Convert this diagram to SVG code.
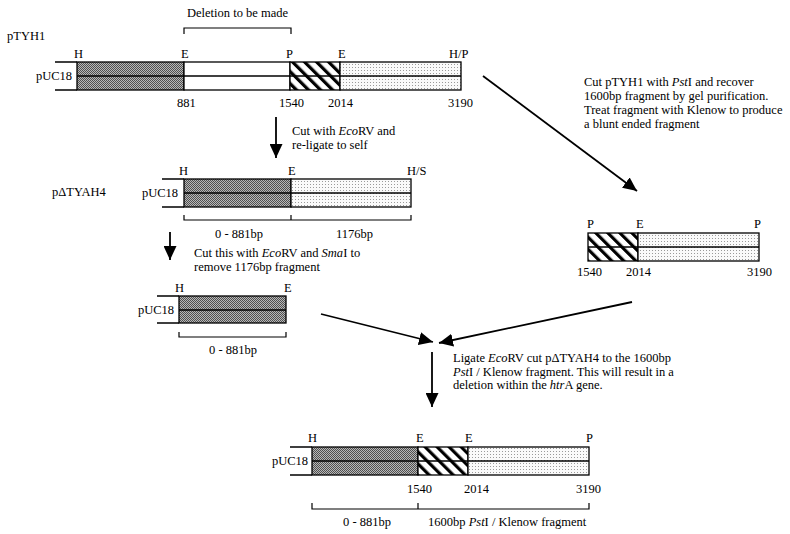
<svg xmlns="http://www.w3.org/2000/svg" width="790" height="534" viewBox="0 0 790 534">
<style>
text{font-family:"Liberation Serif","Times New Roman",serif;font-size:12.5px;fill:#000}
.bar{stroke:#000;stroke-width:1.3}
.ln{stroke:#000;stroke-width:1.3;fill:none}
.br{stroke:#000;stroke-width:1.2;fill:none}
.ar{stroke:#000;stroke-width:1.8;fill:none;marker-end:url(#ah)}
.dk{fill:url(#pdark)}
.dt{fill:url(#pdot)}
.ht{fill:url(#phatch)}
.wh{fill:#fff}
</style>
<defs>
<pattern id="pdark" width="2" height="2" patternUnits="userSpaceOnUse">
<rect width="2" height="2" fill="#b8b8b8"/>
<rect width="1" height="1" fill="#505050"/>
<rect x="1" y="1" width="1" height="1" fill="#505050"/>
</pattern>
<pattern id="pdot" width="3" height="3" patternUnits="userSpaceOnUse">
<rect width="3" height="3" fill="#fafafa"/>
<rect x="1" y="1" width="1" height="1" fill="#9a9a9a"/>
</pattern>
<pattern id="phatch" width="8.5" height="8.5" patternUnits="userSpaceOnUse" patternTransform="rotate(-45)">
<rect width="8.5" height="8.5" fill="#fff"/>
<rect width="3.2" height="8.5" fill="#000"/>
</pattern>
<marker id="ah" viewBox="0 0 14 13" refX="14" refY="6.5" markerWidth="14" markerHeight="13" orient="auto" markerUnits="userSpaceOnUse">
<path d="M0,0 L14,6.5 L0,13 z" fill="#000"/>
</marker>
</defs>

<g id="connectors">
<line class="ar" x1="276" y1="117" x2="276" y2="158"/>
<line class="ar" x1="170" y1="232" x2="170" y2="260"/>
<line class="ar" x1="483" y1="76" x2="637" y2="191"/>
<line class="ar" x1="321" y1="314" x2="433" y2="342"/>
<line class="ar" x1="632" y1="302" x2="439" y2="343"/>
<line class="ar" x1="432" y1="352" x2="432" y2="407"/>
</g>

<g id="pTYH1">
<text x="7" y="40">pTYH1</text>
<text x="187" y="17">Deletion to be made</text>
<path class="br" d="M184,34 V28 H291 V34"/>
<text x="74" y="58">H</text>
<text x="181" y="58">E</text>
<text x="286" y="58">P</text>
<text x="338" y="58">E</text>
<text x="449" y="58">H/P</text>
<text x="36" y="80">pUC18</text>
<path class="ln" d="M55,62 H77 M55,90 H77"/>
<rect class="bar dk" x="77" y="62" width="107" height="28"/>
<rect class="bar wh" x="184" y="62" width="106" height="28"/>
<rect class="bar ht" x="290" y="62" width="50" height="28"/>
<rect class="bar dt" x="340" y="62" width="121" height="28"/>
<line class="ln" x1="77" y1="76" x2="461" y2="76"/>
<text x="177" y="107">881</text>
<text x="279" y="107">1540</text>
<text x="328" y="107">2014</text>
<text x="448" y="107">3190</text>
</g>

<g id="note1">
<text x="292" y="135">Cut with <tspan font-style="italic">Eco</tspan>RV and</text>
<text x="292" y="149">re-ligate to self</text>
</g>

<g id="pdTYAH4">
<text x="52" y="196">pΔTYAH4</text>
<text x="179" y="175">H</text>
<text x="288" y="175">E</text>
<text x="407" y="175">H/S</text>
<text x="142" y="197">pUC18</text>
<path class="ln" d="M162,179 H184 M162,207 H184"/>
<rect class="bar dk" x="184" y="179" width="107" height="28"/>
<rect class="bar dt" x="291" y="179" width="120" height="28"/>
<line class="ln" x1="184" y1="193" x2="411" y2="193"/>
<path class="br" d="M184,215 V220 H411 V215 M291,215 V220"/>
<text x="215" y="238">0 - 881bp</text>
<text x="336" y="238">1176bp</text>
</g>

<g id="note2">
<text x="194" y="257">Cut this with <tspan font-style="italic">Eco</tspan>RV and <tspan font-style="italic">Sma</tspan>I to</text>
<text x="194" y="271">remove 1176bp fragment</text>
</g>

<g id="fragment881">
<text x="175" y="292">H</text>
<text x="284" y="292">E</text>
<text x="138" y="314">pUC18</text>
<path class="ln" d="M157,296 H179 M157,323 H179"/>
<rect class="bar dk" x="179" y="296" width="107" height="27"/>
<line class="ln" x1="179" y1="310" x2="286" y2="310"/>
<path class="br" d="M179,332 V337 H286 V332"/>
<text x="209" y="354">0 - 881bp</text>
</g>

<g id="note3">
<text x="584" y="86">Cut pTYH1 with <tspan font-style="italic">Pst</tspan>I and recover</text>
<text x="584" y="100">1600bp fragment by gel purification.</text>
<text x="584" y="114">Treat fragment with Klenow to produce</text>
<text x="584" y="128">a blunt ended fragment</text>
</g>

<g id="pstFragment">
<text x="587" y="228">P</text>
<text x="636" y="228">E</text>
<text x="754" y="228">P</text>
<rect class="bar ht" x="588" y="233" width="50" height="28"/>
<rect class="bar dt" x="638" y="233" width="121" height="28"/>
<line class="ln" x1="588" y1="247" x2="759" y2="247"/>
<text x="577" y="276">1540</text>
<text x="626" y="276">2014</text>
<text x="747" y="276">3190</text>
</g>

<g id="note4">
<text x="453" y="362">Ligate <tspan font-style="italic">Eco</tspan>RV cut pΔTYAH4 to the 1600bp</text>
<text x="453" y="376"><tspan font-style="italic">Pst</tspan>I / Klenow fragment. This will result in a</text>
<text x="453" y="389">deletion within the <tspan font-style="italic">htr</tspan>A gene.</text>
</g>

<g id="final">
<text x="308" y="442">H</text>
<text x="416" y="442">E</text>
<text x="465" y="442">E</text>
<text x="586" y="442">P</text>
<text x="272" y="465">pUC18</text>
<path class="ln" d="M290,447 H312 M290,475 H312"/>
<rect class="bar dk" x="312" y="447" width="106" height="28"/>
<rect class="bar ht" x="418" y="447" width="50" height="28"/>
<rect class="bar dt" x="468" y="447" width="121" height="28"/>
<line class="ln" x1="312" y1="461" x2="589" y2="461"/>
<text x="407" y="493">1540</text>
<text x="464" y="493">2014</text>
<text x="576" y="493">3190</text>
<path class="br" d="M312,503 V509 H589 V503 M418,503 V509"/>
<text x="343" y="526">0 - 881bp</text>
<text x="428" y="526">1600bp <tspan font-style="italic">Pst</tspan>I / Klenow fragment</text>
</g>
</svg>
